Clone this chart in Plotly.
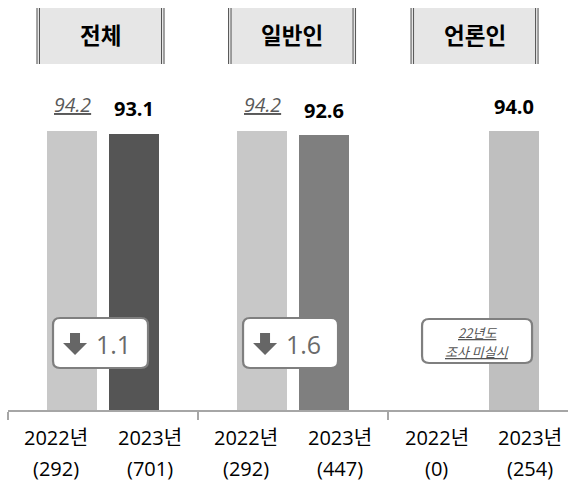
import plotly.graph_objects as go

# ---------------- data ----------------
groups = ["전체", "일반인", "언론인"]
years = ["2022년", "2023년"]
values_2022 = [94.2, 94.2, None]
values_2023 = [93.1, 92.6, 94.0]
n_2022 = [292, 292, 0]
n_2023 = [701, 447, 254]
colors_2022 = ["#c8c8c8", "#c8c8c8", "#c8c8c8"]
colors_2023 = ["#555555", "#7f7f7f", "#bfbfbf"]
no_survey_lines = ["22년도", "조사 미실시"]

KFONT = "Noto Sans CJK KR, sans-serif"
NFONT = "Open Sans, Noto Sans CJK KR, sans-serif"

# layout constants
XMIN, XMAX = -0.5, 2.447
OFF = 0.163        # bar offset from group centre (group units)
LOFF = 0.245       # x-label offset from group centre
BW = 0.263         # bar width (group units)
hdr_shift = [-2.5, -1, -8.5]   # header centre px offset from group centre


def paper_x(v):
    return (v - XMIN) / (XMAX - XMIN)


fig = go.Figure()

xs, ys, cs = [], [], []
for g in range(len(groups)):
    for k, (vals, cols) in enumerate([(values_2022, colors_2022), (values_2023, colors_2023)]):
        xs.append(g + (-OFF if k == 0 else OFF))
        ys.append(vals[g])
        cs.append(cols[g])

fig.add_trace(go.Bar(x=xs, y=ys, width=BW, marker=dict(color=cs, line=dict(width=0)),
                     hoverinfo="skip", showlegend=False))

shapes = []
ann = []


def rounded(x0, x1, y0, y1, r=7):
    return (f"M{x0+r},{y0} L{x1-r},{y0} Q{x1},{y0} {x1},{y0+r} L{x1},{y1-r} "
            f"Q{x1},{y1} {x1-r},{y1} L{x0+r},{y1} Q{x0},{y1} {x0},{y1-r} "
            f"L{x0},{y0+r} Q{x0},{y0} {x0+r},{y0} Z")


for g, name in enumerate(groups):
    # header box
    c = hdr_shift[g]
    x0, x1 = c - 64, c + 64
    pxa = paper_x(g)
    shapes.append(dict(type="rect", xref="paper", yref="paper", xsizemode="pixel", ysizemode="pixel",
                       xanchor=pxa, yanchor=0, x0=x0, x1=x1, y0=346, y1=402,
                       fillcolor="#e6e6e6", line=dict(width=0), layer="below"))
    for lx in [x0 + 0.5, x0 + 3, x1 - 3, x1 - 0.5]:
        shapes.append(dict(type="line", xref="paper", yref="paper", xsizemode="pixel", ysizemode="pixel",
                           xanchor=pxa, yanchor=0, x0=lx, x1=lx, y0=346, y1=402,
                           line=dict(color="#555555", width=1)))
    ann.append(dict(x=g, y=0, xref="x", yref="y", xshift=c, yshift=376, text=f"<b>{name}</b>",
                    showarrow=False, font=dict(family=KFONT, size=22.5, color="#000000"),
                    xanchor="center", yanchor="middle"))

    # value labels
    v22, v23 = values_2022[g], values_2023[g]
    if v22 is not None:
        ann.append(dict(x=g - OFF, y=v22, xref="x", yref="y", yshift=26,
                        text=f"<i><u>{v22:.1f}</u></i>", showarrow=False,
                        font=dict(family=NFONT, size=19.5, color="#595959"),
                        xanchor="center", yanchor="middle"))
    ann.append(dict(x=g + OFF, y=v23, xref="x", yref="y", yshift=25,
                    text=f"<b>{v23:.1f}</b>", showarrow=False,
                    font=dict(family=NFONT, size=20, color="#000000"),
                    xanchor="center", yanchor="middle"))

    # x labels
    for k, (yr, n) in enumerate([(years[0], n_2022[g]), (years[1], n_2023[g])]):
        xp = g + (-LOFF if k == 0 else LOFF)
        ann.append(dict(x=xp, y=0, xref="x", yref="y", yshift=-27, text=yr, showarrow=False,
                        font=dict(family=NFONT, size=20, color="#000000"),
                        xanchor="center", yanchor="middle"))
        ann.append(dict(x=xp, y=0, xref="x", yref="y", yshift=-58, text=f"({n})", showarrow=False,
                        font=dict(family=NFONT, size=20, color="#000000"),
                        xanchor="center", yanchor="middle"))

    # change boxes
    if v22 is not None:
        shapes.append(dict(type="path", xref="x", yref="y", xsizemode="pixel", ysizemode="pixel",
                           xanchor=g, yanchor=0, path=rounded(-50, 45, 42, 92),
                           fillcolor="#ffffff", line=dict(color="#7f7f7f", width=2.2)))
        shapes.append(dict(type="path", xref="x", yref="y", xsizemode="pixel", ysizemode="pixel",
                           xanchor=g, yanchor=0,
                           path="M-33,77 L-23,77 L-23,67 L-16,67 L-28,55 L-40,67 L-33,67 Z",
                           fillcolor="#666666", line=dict(width=0)))
        diff = round(v22 - v23, 1)
        ann.append(dict(x=g, y=0, xref="x", yref="y", xshift=10, yshift=66, text=f"{diff:.1f}",
                        showarrow=False, font=dict(family=NFONT, size=25, color="#6a6a6a"),
                        xanchor="center", yanchor="middle"))
    else:
        shapes.append(dict(type="path", xref="x", yref="y", xsizemode="pixel", ysizemode="pixel",
                           xanchor=g, yanchor=0, path=rounded(-61, 49, 47, 91),
                           fillcolor="#ffffff", line=dict(color="#7f7f7f", width=2.2)))
        ann.append(dict(x=g, y=0, xref="x", yref="y", xshift=-6, yshift=78,
                        text=f"<i><u>{no_survey_lines[0]}</u></i>", borderpad=0,
                        showarrow=False, font=dict(family=KFONT, size=13, color="#555555"),
                        xanchor="center", yanchor="middle"))
        ann.append(dict(x=g, y=0, xref="x", yref="y", xshift=-6, yshift=58.5,
                        text=f"<i><u>{no_survey_lines[1]}</u></i>", borderpad=0,
                        showarrow=False, font=dict(family=KFONT, size=13, color="#555555"),
                        xanchor="center", yanchor="middle"))

fig.update_layout(
    width=568, height=482,
    margin=dict(l=8, r=0, t=54, b=72, pad=0),
    paper_bgcolor="#ffffff", plot_bgcolor="#ffffff",
    shapes=shapes, annotations=ann,
    xaxis=dict(range=[XMIN, XMAX], tickvals=[-0.5, 0.5, 1.5], ticks="outside", ticklen=8,
               tickcolor="#a6a6a6", tickwidth=1.5, showticklabels=False, showgrid=False,
               zeroline=False, showline=True, linecolor="#a6a6a6", linewidth=1.5, fixedrange=True),
    yaxis=dict(range=[0, 120], visible=False, fixedrange=True),
    bargap=0,
)

fig.write_html("out.html", config={"displayModeBar": False},
               post_script="document.body.style.margin='0';document.body.style.overflow='hidden';")
